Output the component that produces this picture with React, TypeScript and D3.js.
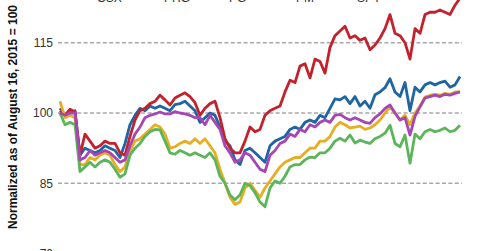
import React from "react";
import * as d3 from "d3";

const xs = d3.range(81); // sample index, every ~1.5 trading days

const blue = [101,99.5,100,100.5,91,92.5,92,91.5,92,93,92.5,92,90.5,93.5,97.5,99.5,101,100.5,101.5,101,101.5,101,100.5,101.8,102,102.5,101.5,100.5,98,99,100,99.5,97,94,93,90,89,92,92.5,91.5,90.5,89.5,93,94,94.5,95,96.5,97,96.5,98,98.5,98,99.5,99,101,103,102.8,103.5,102,103.5,101.5,102.5,101,103.9,104.5,105.4,107.3,104.5,103.5,106.5,100.5,105.5,104.5,106,106.5,106,106.5,106.8,105.5,106,107.8];
const red = [100.5,99.5,100.8,100.2,91,95.5,94,92.5,93,94,93.5,93.5,91.5,91,95,98.5,100.5,101,102,102.5,103.8,102.8,101.7,103.2,103.8,104.3,103.5,102.2,99.5,101,102,102.5,99,94.5,92.5,91.5,91.5,94,97,96,96.5,99.5,100.5,101,101.5,104.5,107,106.5,110,110.5,107.5,111.5,111,108.5,114,116.5,117.5,118.5,116,116.5,115.5,116,113.5,114.5,116,118,121,117,116.5,115,111.5,118,117,121,121.5,121.5,122,121.5,121,123,124.5];
const yellow = [102.5,99,99.5,99,89,89,90.5,90,91,91.5,91,89,87.5,88.5,92,94,94.5,95.5,96.5,97.5,97,95.5,92.5,92.8,93.5,94,93.5,94.5,93.5,94.5,93,91.5,88,85,82,80.5,81,84,85,83.5,82,84,85.5,87,88.5,89.5,90,90.5,90.5,91.5,92.5,92.5,94,94,95,97,98,97.5,96.8,97,97.2,96.5,96.8,97.5,98.5,100,101.3,100,98.5,99.5,97.5,100,101.5,103.4,103.8,104,103.8,104.2,104,104.5,104.5];
const green = [100,97.5,98,97.5,87.5,88.5,89.5,88.5,89.5,90,89.5,88,86.3,87,91,92.5,93.5,95,96,96.5,96.4,94,91.5,91.2,92,91.5,91,91.5,91,90.5,91.5,90,86.5,85,82.5,81.5,82.5,85,84.5,83,81,80,84,85.5,85,86.5,88.5,89,89,90,90.6,90.5,91.5,91.5,92.5,94,94.6,94,95.3,93.6,94.2,93.8,93.5,94.5,95,95.7,97.4,93.5,92.8,95.3,89.3,95.5,94.5,96,96.5,96,96.3,96.8,96,96.3,97.4];
const purple = [100,99.5,100,100,90,90.5,92,91,91.5,92,91.5,90.5,89.5,90,93,95.5,97,99,99.5,99.8,100.2,99.8,99.8,100.3,100,99.8,99.5,99,99,97.5,99.5,98,96.5,93,91.5,89.5,90,91.5,91,89.5,88,87.5,91,92,93.5,94,95.5,95,96.5,96,97.5,97,98,98.5,98,99.5,99.7,99,98.5,99,98.5,98,97.8,99,99.8,101,101.7,100,98.5,99,95.3,99.3,101.3,103.2,103.5,103.8,103.5,104,103.8,104.2,104.5];

const seriesNames = ["CSX", "PHG", "PG", "PM", "SPY"];
const seriesColors = ["#1d66a2", "#e8ae22", "#5cb55a", "#c3222c", "#a546b4"];
const yTicks = [70, 85, 100, 115];

const drawOrder = [
  { values: blue, color: seriesColors[0] },
  { values: red, color: seriesColors[3] },
  { values: yellow, color: seriesColors[1] },
  { values: green, color: seriesColors[2] },
  { values: purple, color: seriesColors[4] },
];

const legendX = [68, 135, 200, 267, 328];

export default function App() {
  const W = 480, H = 251;
  const x = d3.scaleLinear().domain([0, xs.length - 1]).range([60, 460]);
  const y = d3.scaleLinear().domain([70, 115]).range([253.6, 42.7]);
  const line = d3.line<number>().x((_, i) => x(i)).y((d) => y(d));
  return (
    <svg width={W} height={H} style={{ position: "absolute", left: 0, top: 0, background: "#fff" }} fontFamily="Liberation Sans, Arial, sans-serif">
      <defs>
        <clipPath id="clip"><rect x={0} y={0} width={W} height={H} /></clipPath>
      </defs>
      {yTicks.map((t) => (
        <g key={t}>
          <line x1={58} x2={462} y1={y(t)} y2={y(t)} stroke="#a8a8a8" strokeWidth={1.5} strokeDasharray="4,2.4" />
          <text x={53} y={y(t)} dy="0.36em" textAnchor="end" fontSize={12} fill="#333">{t}</text>
        </g>
      ))}
      <g clipPath="url(#clip)">
        {drawOrder.map((s, i) => (
          <path key={i} d={line(s.values) || ""} fill="none" stroke={s.color} strokeWidth={2.8} strokeLinejoin="round" />
        ))}
      </g>
      {seriesNames.map((n, i) => (
        <g key={n}>
          <line x1={legendX[i]} x2={legendX[i] + 22} y1={-1.6} y2={-1.6} stroke={seriesColors[i]} strokeWidth={2.5} />
          <text x={legendX[i] + 29} y={1.5} fontSize={12} fill="#333">{n}</text>
        </g>
      ))}
      <text transform="translate(17,117) rotate(-90)" textAnchor="middle" fontSize={12} fontWeight="bold" fill="#111">Normalized as of August 16, 2015 = 100</text>
    </svg>
  );
}
